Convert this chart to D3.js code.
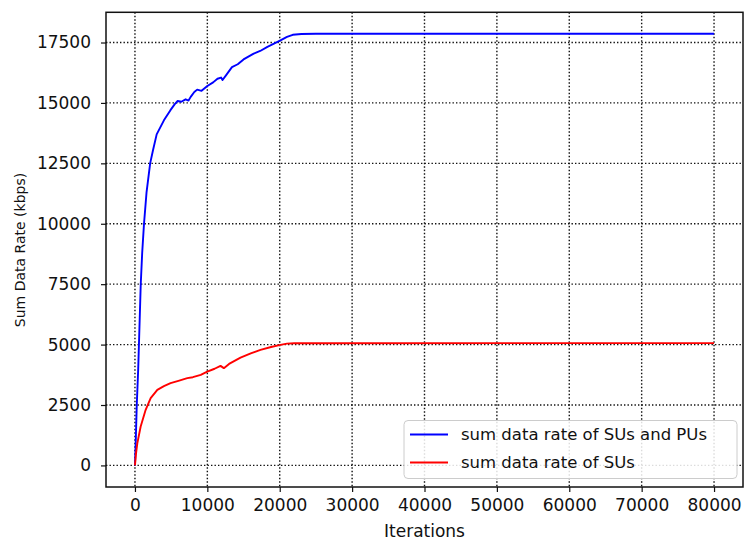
<!DOCTYPE html>
<html>
<head>
<meta charset="utf-8">
<script src="https://cdn.jsdelivr.net/npm/d3@7/dist/d3.min.js"></script>
<style>
  body { margin: 0; background: #fff; }
  svg { font-family: "DejaVu Sans", sans-serif; }
</style>
</head>
<body>
<svg id="chart" width="744" height="541"></svg>
<script>
// values: [iteration, rate]
const suPuRate = [
  [0, 0], [100, 900], [250, 2500], [450, 4000], [550, 5000], [800, 7500],
  [1000, 8800], [1250, 10000], [1600, 11300], [2100, 12500], [2500, 13050],
  [3000, 13700], [4000, 14280], [4900, 14700], [5500, 14950], [5900, 15080],
  [6400, 15050], [7000, 15150], [7400, 15100], [7700, 15250], [8200, 15450],
  [8600, 15550], [9200, 15500], [10000, 15700], [10800, 15850], [11400, 16000],
  [11900, 16050], [12100, 15950], [12600, 16150], [13400, 16480], [14200, 16600],
  [15000, 16800], [16400, 17040], [17300, 17150], [18300, 17320], [19200, 17450],
  [20100, 17590], [21000, 17730], [21800, 17820], [23000, 17850], [25000, 17860],
  [80000, 17860]
]
const suRate = [
  [0, 0], [150, 500], [330, 925], [790, 1612], [1480, 2302], [2170, 2785],
  [3090, 3128], [4000, 3280], [4920, 3405], [6000, 3500], [7230, 3612],
  [8000, 3650], [9090, 3748], [9990, 3884], [11000, 4000], [11820, 4120],
  [12280, 4025], [13000, 4200], [14580, 4460], [16000, 4640], [17340, 4781],
  [18800, 4900], [20100, 4988], [21000, 5040], [22000, 5058], [80000, 5060]
]
const seriesNames = ["sum data rate of SUs and PUs", "sum data rate of SUs"]
const seriesColors = ["#0000ff", "#ff0000"]
const xTicks = [0, 10000, 20000, 30000, 40000, 50000, 60000, 70000, 80000]
const yTicks = [0, 2500, 5000, 7500, 10000, 12500, 15000, 17500]

const margin = {left: 106, top: 12.3, right: 1, bottom: 54}
const width = 744 - margin.left - margin.right,
    height = 541 - margin.top - margin.bottom

const svg = d3.select('#chart')
const g = svg.append("g")
    .attr("transform", `translate(${margin.left},${margin.top})`)

const x = d3.scaleLinear().domain([-4000, 84000]).range([0, width])
const y = d3.scaleLinear().domain([-893, 18750]).range([height, 0])

// grid
g.append("g").selectAll("line")
    .data(xTicks)
    .enter().append("line")
    .attr("x1", d => x(d)).attr("x2", d => x(d))
    .attr("y1", 0).attr("y2", height)
    .attr("stroke", "#111").attr("stroke-width", 1.4)
    .attr("stroke-dasharray", "1.4,2.1")
g.append("g").selectAll("line")
    .data(yTicks)
    .enter().append("line")
    .attr("y1", d => y(d)).attr("y2", d => y(d))
    .attr("x1", 0).attr("x2", width)
    .attr("stroke", "#111").attr("stroke-width", 1.4)
    .attr("stroke-dasharray", "1.4,2.1")

// axes
const xAxis = g.append("g")
    .attr("transform", `translate(0,${height})`)
    .call(d3.axisBottom(x).tickValues(xTicks).tickFormat(d3.format("d")).tickSize(5).tickPadding(7))
const yAxis = g.append("g")
    .call(d3.axisLeft(y).tickValues(yTicks).tickFormat(d3.format("d")).tickSize(5).tickPadding(10))
for (const ax of [xAxis, yAxis]) {
    ax.select(".domain").remove()
    ax.selectAll("text").attr("font-size", 17).attr("fill", "#111")
        .style("font-family", '"DejaVu Sans", sans-serif')
    ax.selectAll("line").attr("stroke", "#111").attr("stroke-width", 1.2)
}

// lines
const line = d3.line()
    .x(d => x(d[0]))
    .y(d => y(d[1]))

;[suPuRate, suRate].forEach((data, i) => {
    g.append("path")
        .datum(data)
        .attr("fill", "none")
        .attr("stroke", seriesColors[i])
        .attr("stroke-width", 1.9)
        .attr("stroke-linejoin", "round")
        .attr("d", line)
})

// frame
g.append("rect")
    .attr("width", width).attr("height", height)
    .attr("fill", "none").attr("stroke", "#111").attr("stroke-width", 1.5)

// legend
const legend = g.append("g").attr("transform", `translate(${404 - margin.left},${420.5 - margin.top})`)
legend.append("rect")
    .attr("width", 333).attr("height", 58).attr("rx", 4)
    .attr("fill", "#fff").attr("fill-opacity", 0.85)
    .attr("stroke", "#ccc").attr("stroke-width", 1)
seriesNames.forEach((name, i) => {
    const row = legend.append("g").attr("transform", `translate(0,${14 + i * 28})`)
    row.append("line")
        .attr("x1", 6).attr("x2", 44)
        .attr("stroke", seriesColors[i]).attr("stroke-width", 1.9)
    row.append("text")
        .attr("x", 57).attr("dy", "0.35em")
        .attr("font-size", 16.5).attr("fill", "#111")
        .text(name)
})

// axis labels
svg.append("text")
    .attr("x", margin.left + width / 2).attr("y", 537)
    .attr("text-anchor", "middle").attr("font-size", 17).attr("fill", "#111")
    .text("Iterations")
svg.append("text")
    .attr("transform", "translate(25,250) rotate(-90)")
    .attr("text-anchor", "middle").attr("font-size", 14).attr("fill", "#111")
    .text("Sum Data Rate (kbps)")
</script>
</body>
</html>
